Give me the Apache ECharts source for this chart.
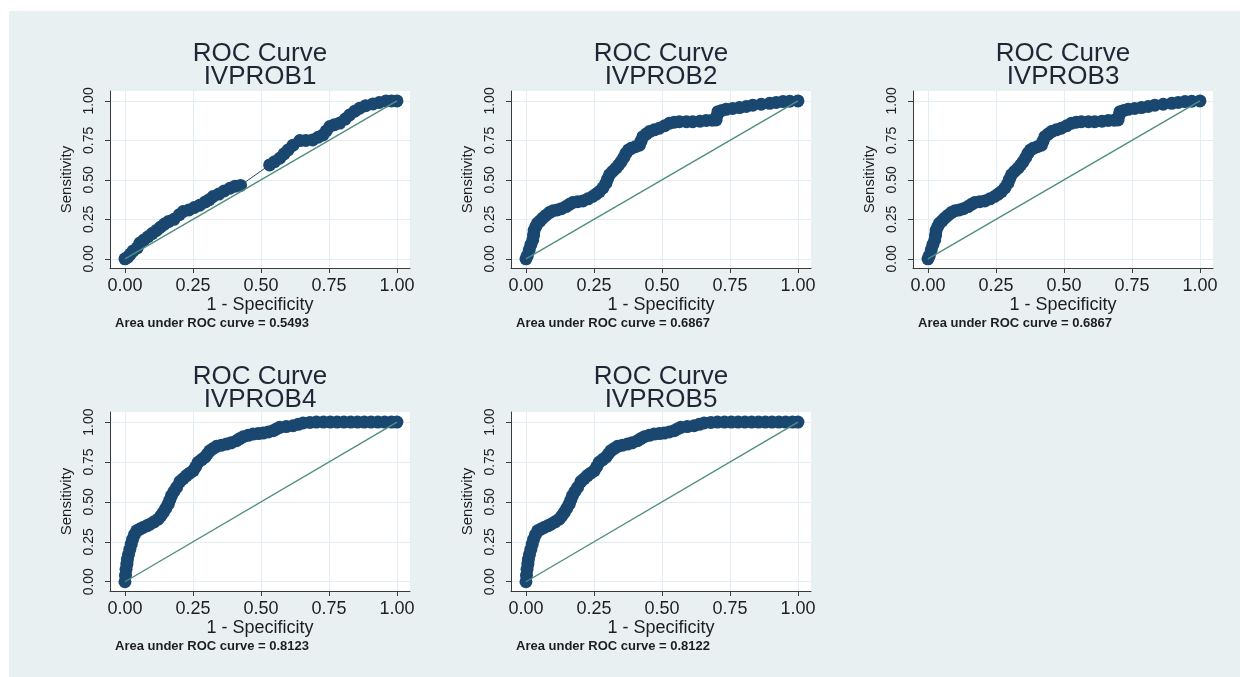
<!DOCTYPE html>
<html><head><meta charset="utf-8">
<script src="https://cdn.jsdelivr.net/npm/echarts@6/dist/echarts.min.js"></script>
<style>html,body{margin:0;padding:0;background:#fff}#c{width:1240px;height:677px}</style>
</head><body><div id="c"></div>
<script>
// ---------- data ----------
const panelNames = ['IVPROB1', 'IVPROB2', 'IVPROB3', 'IVPROB4', 'IVPROB5'];
const aucValues = ['0.5493', '0.6867', '0.6867', '0.8123', '0.8122'];
const tickValues = [0, 0.25, 0.5, 0.75, 1];
const refLine = [[0, 0], [1, 1]];

const roc1 = [[0,0],[0.01,0.01],[0.02,0.03],[0.03,0.05],[0.045,0.07],[0.055,0.10],[0.07,0.12],[0.085,0.14],[0.10,0.16],[0.116,0.18],[0.13,0.20],[0.145,0.22],[0.16,0.236],[0.18,0.25],[0.20,0.28],[0.214,0.30],[0.235,0.31],[0.255,0.325],[0.275,0.34],[0.295,0.36],[0.31,0.375],[0.324,0.395],[0.345,0.41],[0.365,0.43],[0.386,0.447],[0.405,0.46],[0.425,0.465],
  [0.532,0.595],[0.55,0.615],[0.569,0.637],[0.585,0.665],[0.60,0.69],[0.618,0.72],[0.643,0.749],[0.665,0.75],[0.69,0.753],[0.71,0.77],[0.728,0.785],[0.74,0.81],[0.753,0.838],[0.77,0.85],[0.79,0.86],[0.81,0.885],[0.826,0.911],[0.845,0.935],[0.863,0.954],[0.885,0.97],[0.912,0.981],[0.935,0.99],[0.96,1.0],[0.98,1.0],[1,1]];

const roc2 = [[0,0],[0.005,0.02],[0.012,0.057],[0.018,0.09],[0.025,0.12],[0.028,0.15],[0.03,0.18],[0.036,0.205],[0.043,0.226],[0.052,0.24],[0.061,0.257],[0.073,0.275],[0.086,0.293],[0.1,0.305],[0.115,0.31],[0.13,0.318],[0.147,0.331],[0.16,0.345],[0.172,0.357],[0.19,0.362],[0.209,0.367],[0.228,0.38],[0.245,0.395],[0.258,0.41],[0.27,0.426],[0.283,0.45],[0.294,0.479],[0.3,0.505],[0.307,0.532],[0.318,0.553],[0.331,0.574],[0.341,0.595],[0.35,0.616],[0.36,0.643],[0.368,0.669],[0.377,0.69],[0.387,0.70],[0.402,0.71],[0.417,0.72],[0.423,0.745],[0.43,0.774],[0.442,0.79],[0.454,0.806],[0.472,0.817],[0.49,0.827],[0.51,0.843],[0.528,0.859],[0.545,0.865],[0.564,0.869],[0.59,0.869],[0.613,0.869],[0.64,0.872],[0.663,0.876],[0.685,0.878],[0.699,0.88],[0.702,0.905],[0.706,0.932],[0.72,0.94],[0.736,0.947],[0.76,0.952],[0.785,0.958],[0.81,0.965],[0.834,0.973],[0.865,0.979],[0.896,0.985],[0.92,0.99],[0.945,0.996],[0.97,0.998],[1,1]];

const roc3 = [[0,0],[0.005,0.02],[0.012,0.057],[0.018,0.09],[0.025,0.12],[0.028,0.15],[0.03,0.18],[0.036,0.205],[0.043,0.226],[0.052,0.24],[0.061,0.257],[0.073,0.275],[0.086,0.293],[0.1,0.305],[0.115,0.31],[0.13,0.318],[0.147,0.331],[0.16,0.345],[0.172,0.357],[0.19,0.362],[0.209,0.367],[0.228,0.38],[0.245,0.395],[0.258,0.41],[0.27,0.426],[0.283,0.45],[0.294,0.479],[0.3,0.505],[0.307,0.532],[0.318,0.553],[0.331,0.574],[0.341,0.595],[0.35,0.616],[0.36,0.643],[0.368,0.669],[0.377,0.69],[0.387,0.70],[0.402,0.71],[0.417,0.72],[0.423,0.745],[0.43,0.774],[0.442,0.79],[0.454,0.806],[0.472,0.817],[0.49,0.827],[0.51,0.843],[0.528,0.859],[0.545,0.865],[0.564,0.869],[0.59,0.869],[0.613,0.869],[0.64,0.872],[0.663,0.876],[0.685,0.878],[0.699,0.88],[0.702,0.905],[0.706,0.932],[0.72,0.94],[0.736,0.947],[0.76,0.952],[0.785,0.958],[0.81,0.965],[0.834,0.973],[0.865,0.979],[0.896,0.985],[0.92,0.99],[0.945,0.996],[0.97,0.998],[1,1]];

const roc4 = [[0,0],[0.002,0.04],[0.004,0.078],[0.007,0.11],[0.009,0.14],[0.013,0.17],[0.018,0.203],[0.023,0.235],[0.028,0.266],[0.035,0.295],[0.043,0.319],[0.055,0.33],[0.067,0.34],[0.08,0.35],[0.092,0.36],[0.107,0.375],[0.122,0.392],[0.132,0.412],[0.141,0.434],[0.15,0.46],[0.159,0.486],[0.165,0.512],[0.171,0.539],[0.18,0.565],[0.19,0.591],[0.202,0.627],[0.214,0.645],[0.226,0.665],[0.238,0.68],[0.251,0.696],[0.26,0.72],[0.269,0.748],[0.282,0.765],[0.294,0.78],[0.303,0.80],[0.312,0.82],[0.325,0.835],[0.337,0.848],[0.355,0.855],[0.373,0.862],[0.39,0.87],[0.41,0.883],[0.422,0.896],[0.435,0.908],[0.453,0.917],[0.471,0.925],[0.49,0.928],[0.508,0.931],[0.527,0.938],[0.545,0.946],[0.557,0.957],[0.569,0.967],[0.593,0.972],[0.618,0.977],[0.637,0.986],[0.655,0.994],[0.68,0.998],[0.704,1],[0.73,1],[0.755,1],[0.78,1],[0.805,1],[0.83,1],[0.855,1],[0.88,1],[0.905,1],[0.93,1],[0.955,1],[0.98,1],[1,1]];

const roc5 = [[0,0],[0.002,0.04],[0.004,0.078],[0.007,0.11],[0.009,0.14],[0.013,0.17],[0.018,0.203],[0.023,0.235],[0.028,0.266],[0.035,0.295],[0.043,0.319],[0.055,0.33],[0.067,0.34],[0.08,0.35],[0.092,0.36],[0.107,0.375],[0.122,0.392],[0.132,0.412],[0.141,0.434],[0.15,0.46],[0.159,0.486],[0.165,0.512],[0.171,0.539],[0.18,0.565],[0.19,0.591],[0.202,0.627],[0.214,0.645],[0.226,0.665],[0.238,0.68],[0.251,0.696],[0.26,0.72],[0.269,0.748],[0.282,0.765],[0.294,0.78],[0.303,0.80],[0.312,0.82],[0.325,0.835],[0.337,0.848],[0.355,0.855],[0.373,0.862],[0.39,0.87],[0.41,0.883],[0.422,0.896],[0.435,0.908],[0.453,0.917],[0.471,0.925],[0.49,0.928],[0.508,0.931],[0.527,0.938],[0.545,0.946],[0.557,0.957],[0.569,0.967],[0.593,0.972],[0.618,0.977],[0.637,0.986],[0.655,0.994],[0.68,0.998],[0.704,1],[0.73,1],[0.755,1],[0.78,1],[0.805,1],[0.83,1],[0.855,1],[0.88,1],[0.905,1],[0.93,1],[0.955,1],[0.98,1],[1,1]];

const curves = [roc1, roc2, roc3, roc4, roc5];

// ---------- layout / style ----------
const FONT = '"Liberation Sans", Arial, sans-serif';
const panels = [
  {left: 110, top: 91, height: 177, titleTop: 42},
  {left: 511, top: 91, height: 177, titleTop: 42},
  {left: 913, top: 91, height: 177, titleTop: 42},
  {left: 110, top: 412, height: 179, titleTop: 365},
  {left: 511, top: 412, height: 179, titleTop: 365}
];
const PW = 300;
const AXIS_COLOR = '#3a3a3a';
const TEXT_COLOR = '#1e1e1e';

const grid = [], xAxis = [], yAxis = [], series = [], title = [];
panels.forEach((p, i) => {
  grid.push({left: p.left, top: p.top, width: PW, height: p.height,
    show: true, backgroundColor: '#ffffff', borderWidth: 0, containLabel: false, outerBoundsMode: 'none'});
  xAxis.push({
    gridIndex: i, type: 'value', min: -0.055, max: 1.048,
    axisLine: {show: true, onZero: false, lineStyle: {color: AXIS_COLOR, width: 1}},
    axisTick: {show: true, customValues: tickValues, length: 5, lineStyle: {color: AXIS_COLOR}},
    axisLabel: {customValues: tickValues, formatter: v => v.toFixed(2), fontSize: 18, color: TEXT_COLOR, margin: 9, fontFamily: FONT},
    splitLine: {show: true, lineStyle: {color: '#e4edf1', width: 1}},
    name: '1 - Specificity', nameLocation: 'middle', nameGap: 25,
    nameTextStyle: {fontSize: 18, color: TEXT_COLOR, fontFamily: FONT}
  });
  yAxis.push({
    gridIndex: i, type: 'value', min: -0.058, max: 1.063,
    axisLine: {show: true, onZero: false, lineStyle: {color: AXIS_COLOR, width: 1}},
    axisTick: {show: true, customValues: tickValues, length: 5, lineStyle: {color: AXIS_COLOR}},
    axisLabel: {customValues: tickValues, formatter: v => v.toFixed(2), fontSize: 14, rotate: 90, color: TEXT_COLOR, margin: 14, fontFamily: FONT},
    splitLine: {show: true, lineStyle: {color: '#e4edf1', width: 1}},
    name: 'Sensitivity', nameLocation: 'middle', nameGap: 36,
    nameTextStyle: {fontSize: 15, color: TEXT_COLOR, fontFamily: FONT}
  });
  series.push({
    type: 'line', xAxisIndex: i, yAxisIndex: i, data: curves[i],
    symbol: 'circle', symbolSize: 13, showSymbol: true,
    itemStyle: {color: '#1a476f', borderColor: '#1a476f', borderWidth: 0},
    lineStyle: {color: '#1a476f', width: 1}, z: 2, animation: false
  });
  series.push({
    type: 'line', xAxisIndex: i, yAxisIndex: i, data: refLine,
    symbol: 'none', lineStyle: {color: '#4f8f80', width: 1.4}, z: 3, animation: false
  });
  title.push({
    text: 'ROC Curve\n' + panelNames[i], left: p.left + PW / 2, top: p.titleTop, textAlign: 'center', padding: 0,
    textStyle: {fontSize: 26, lineHeight: 23, fontWeight: 'normal', color: '#1f2636', fontFamily: FONT}
  });
  title.push({
    text: 'Area under ROC curve = ' + aucValues[i], left: p.left + 5, top: p.top + p.height + 48, padding: 0,
    textStyle: {fontSize: 13, lineHeight: 14, fontWeight: 'bold', color: TEXT_COLOR, fontFamily: FONT}
  });
});

const chart = echarts.init(document.getElementById('c'), null, {renderer: 'canvas'});
chart.setOption({
  backgroundColor: '#ffffff',
  animation: false,
  graphic: [{type: 'rect', shape: {x: 9, y: 11, width: 1231, height: 666}, style: {fill: '#e8f0f2'}, z: -100, silent: true}],
  title, grid, xAxis, yAxis, series,
  tooltip: {show: false}
});
</script></body></html>
